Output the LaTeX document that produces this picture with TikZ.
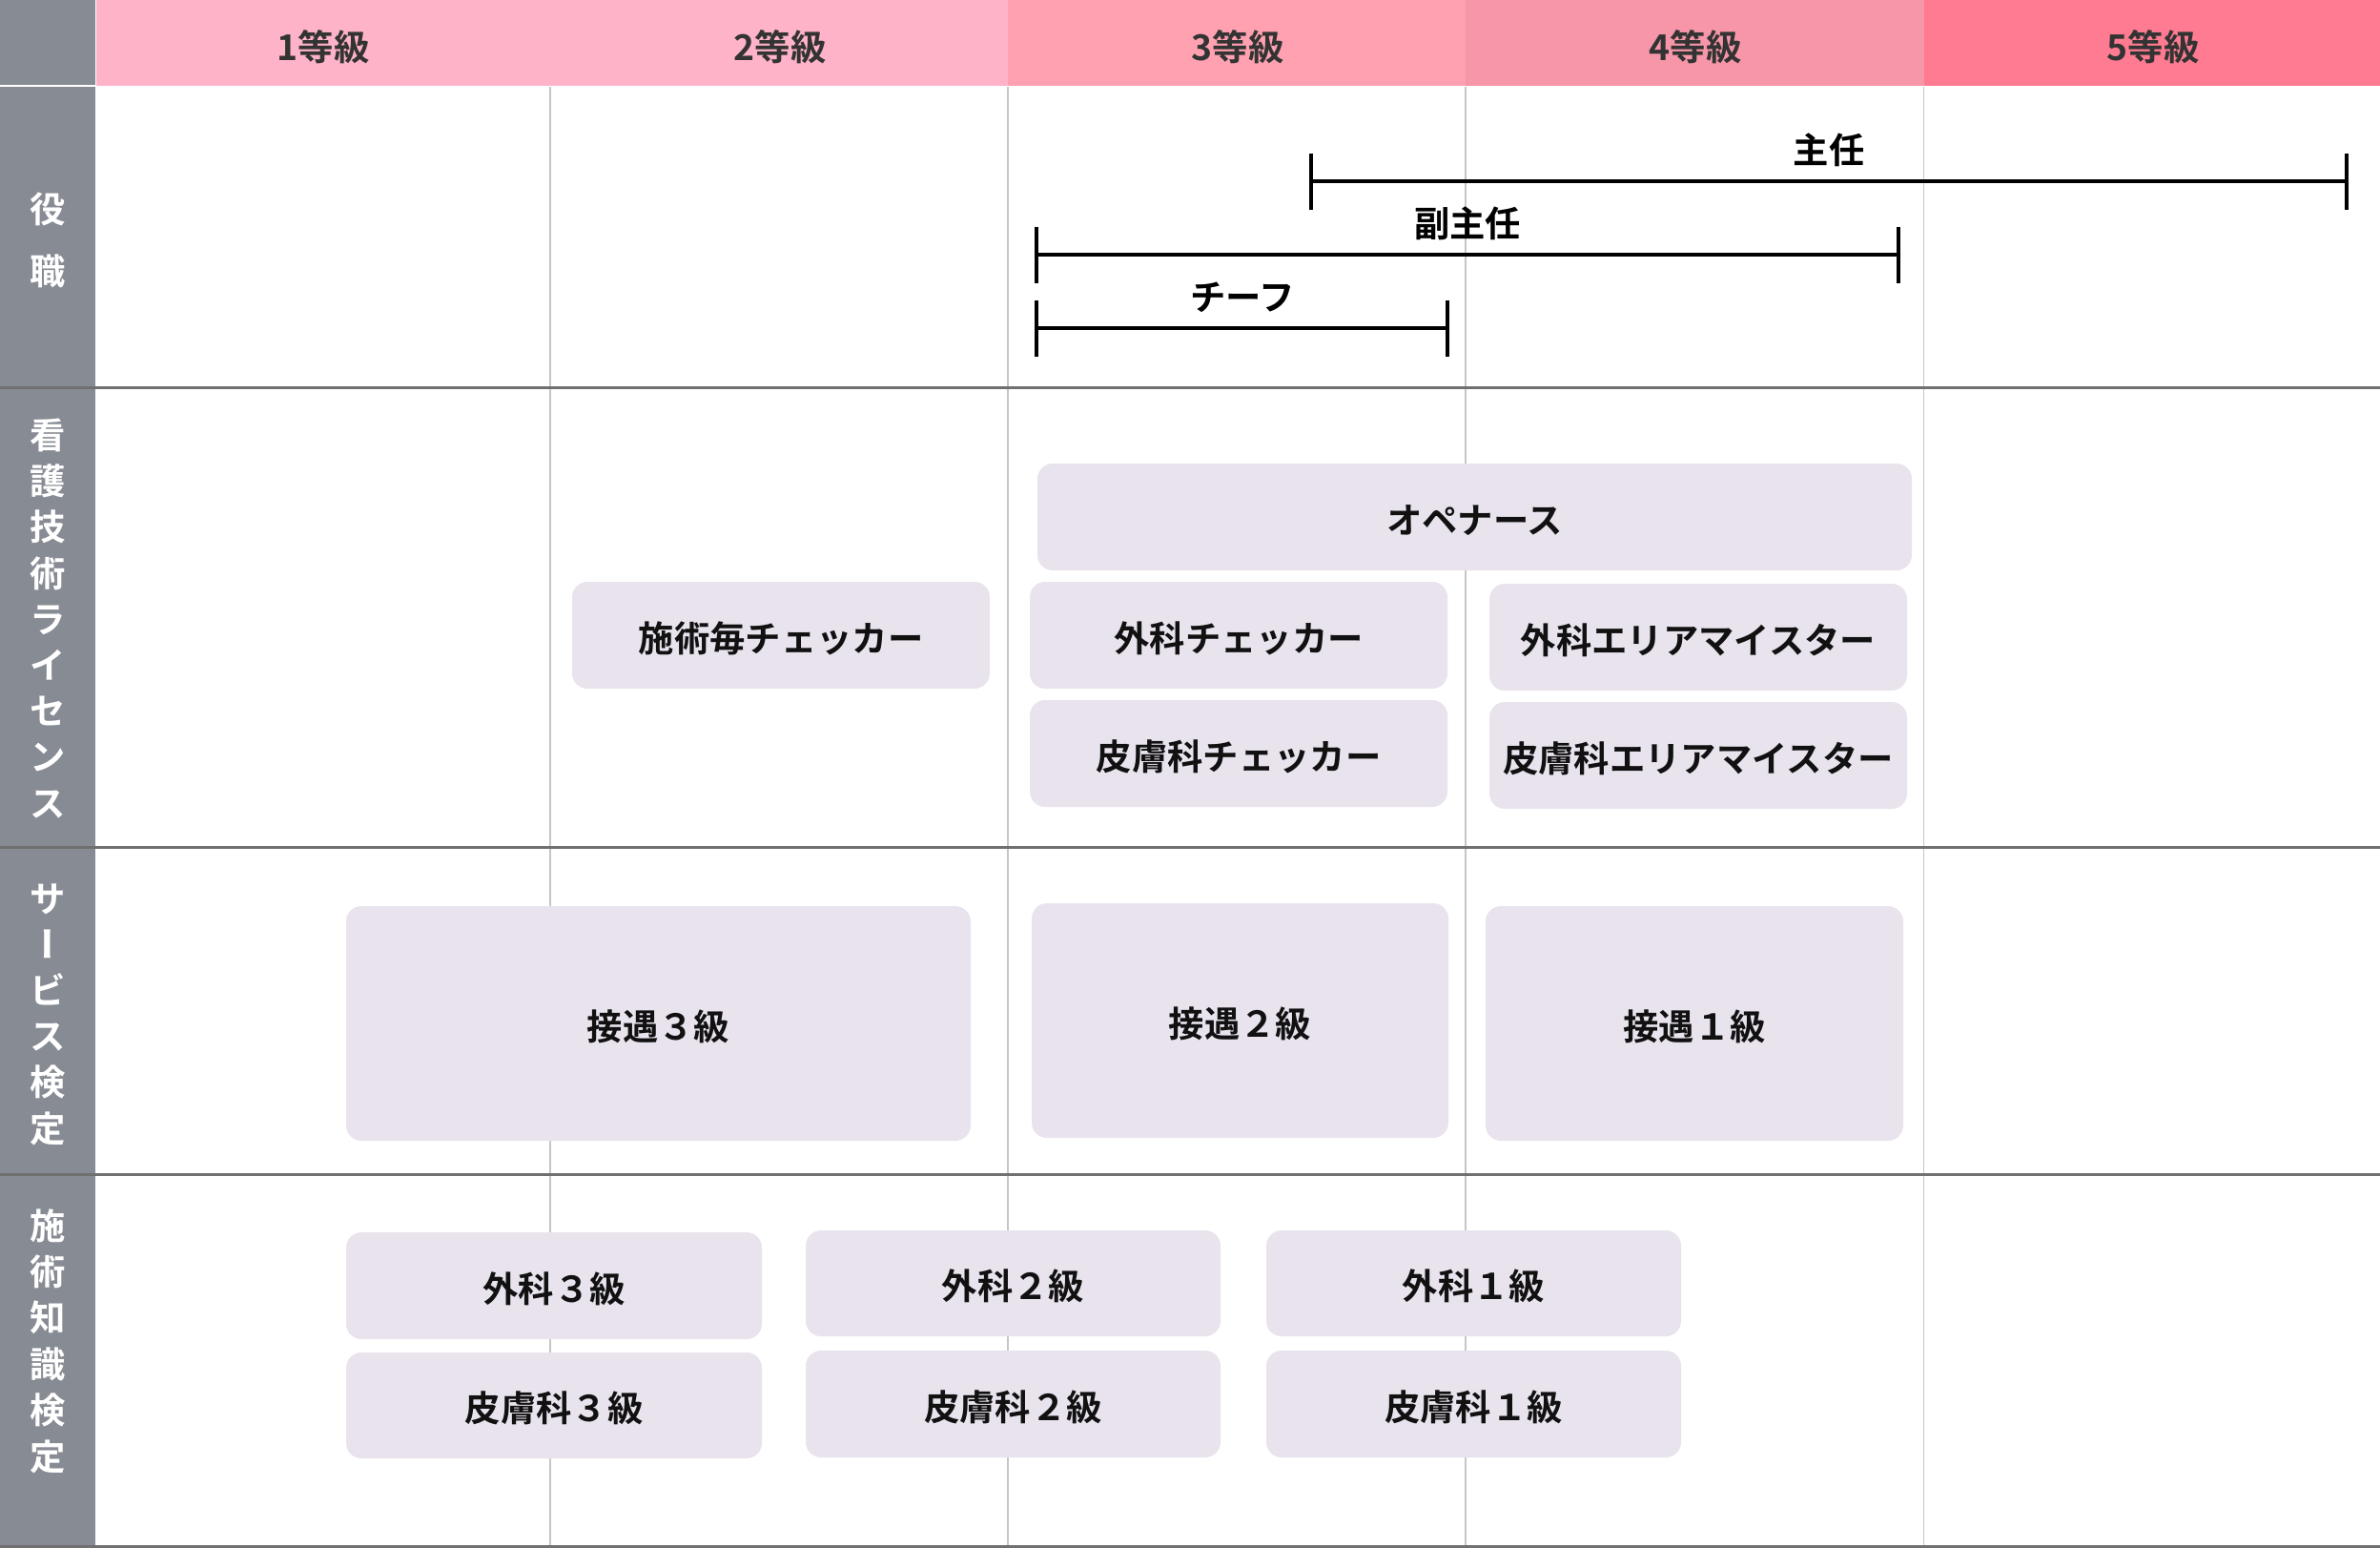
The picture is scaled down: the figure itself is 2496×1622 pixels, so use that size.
\documentclass[tikz,border=0pt]{standalone}
\usepackage{fontspec}
\setmainfont{Noto Sans CJK JP}[BoldFont={Noto Sans CJK JP Bold}]
\newfontfamily\jpv{Noto Sans CJK JP Bold}[RawFeature={+vert}]
\usetikzlibrary{fit}
\definecolor{hdrA}{HTML}{FFB3C8}
\definecolor{hdrB}{HTML}{FFA1B1}
\definecolor{hdrC}{HTML}{F696A8}
\definecolor{hdrD}{HTML}{FF7B91}
\definecolor{sidegray}{HTML}{878B93}
\definecolor{rowline}{HTML}{707070}
\definecolor{colline}{HTML}{C6C6C6}
\definecolor{boxfill}{HTML}{E9E3EE}
\definecolor{hdrtext}{HTML}{333333}
\definecolor{boxtext}{HTML}{111111}
\tikzset{
  jpt/.style={font=\bfseries\fontsize{11.2}{13}\selectfont, text height=0.88em, text depth=0.12em, inner sep=0pt},
  hdr/.style={jpt, text=hdrtext, yshift=-0.4pt},
  side/.style={jpt, text=white, yshift=-0.4pt},
  licbox/.style={fill=boxfill, rounded corners=4.8pt, inner sep=0pt},
  lictext/.style={jpt, text=boxtext, yshift=-1.4pt},
  rolelabel/.style={jpt, text=black, yshift=-0.4pt},
  rolebar/.style={line width=1.05pt, black},
  rowsep/.style={line width=0.9pt, rowline},
  colsep/.style={line width=0.45pt, colline},
}
\newcommand{\licbox}[4]{%
  \node[licbox, fit={#2 #3}] (#1) {};
  \node[lictext] (#1T) at (#1.center) {#4};
}
\begin{document}
\begin{tikzpicture}[x=0.3pt, y=-0.3pt]
\useasboundingbox (0,0) rectangle (2496,1622);
% header
\fill[sidegray] (0,0) rectangle (100,89);
\fill[sidegray] (0,91) rectangle (100,1622);
\fill[hdrA] (101,0) rectangle (1057,90);
\fill[hdrB] (1057,0) rectangle (1537,90);
\fill[hdrC] (1537,0) rectangle (2017.5,90);
\fill[hdrD] (2017.5,0) rectangle (2496,90);
\node[hdr] (g1) at (339,49) {1等級};
\node[hdr] (g2) at (818,49) {2等級};
\node[hdr] (g3) at (1298,49) {3等級};
\node[hdr] (g4) at (1778,49) {4等級};
\node[hdr] (g5) at (2258,49) {5等級};
% column lines
\foreach \x [count=\i] in {577,1057,1537,2017.5}{
  \coordinate (ct\i) at (\x,91);
  \coordinate (cb\i) at (\x,1622);
  \draw[colsep] (ct\i) -- (cb\i);
}
% row lines
\foreach \y [count=\i] in {406,888.5,1231,1621}{
  \coordinate (rl\i) at (0,\y);
  \coordinate (rr\i) at (2496,\y);
  \draw[rowsep] (rl\i) -- (rr\i);
}
% side labels
\node[side] (s1a) at (50,219) {役};
\node[side] (s1b) at (50,284) {職};
\foreach \c [count=\i from 0] in {看,護,技,術,ラ,イ,セ,ン,ス}{
  \node[side] (s2-\i) at (50,456.5+48.2*\i) {\c};
}
\foreach \c [count=\i from 0] in {サ,{\jpv ー},ビ,ス,検,定}{
  \node[side] (s3-\i) at (50,942+48.2*\i) {\c};
}
\foreach \c [count=\i from 0] in {施,術,知,識,検,定}{
  \node[side] (s4-\i) at (50,1285+48.4*\i) {\c};
}
% role bars
\coordinate (shuninL) at (1375,190);
\coordinate (shuninR) at (2461,190);
\coordinate (fukuL) at (1087,267);
\coordinate (fukuR) at (1991,267);
\coordinate (chiefL) at (1087,344);
\coordinate (chiefR) at (1518,344);
\foreach \a/\b in {shuninL/shuninR,fukuL/fukuR,chiefL/chiefR}{
  \draw[rolebar] (\a) -- (\b);
  \draw[rolebar] (\a) ++(0,-29.5) -- ++(0,59);
  \draw[rolebar] (\b) ++(0,-29.5) -- ++(0,59);
}
\node[rolelabel] (shuninT) at (1918,157) {主任};
\node[rolelabel] (fukuT) at (1539,234) {副主任};
\node[rolelabel] (chiefT) at (1303,311) {チーフ};
% license boxes
\licbox{ope}{(1088,486)}{(2005,598)}{オペナース}
\licbox{shchk}{(600,610)}{(1038,722)}{施術毎チェッカー}
\licbox{gechk}{(1080,610)}{(1518,722)}{外科チェッカー}
\licbox{hichk}{(1080,734)}{(1518,846)}{皮膚科チェッカー}
\licbox{gemei}{(1562,612)}{(2000,724)}{外科エリアマイスター}
\licbox{himei}{(1562,736)}{(2000,848)}{皮膚科エリアマイスター}
% service
\licbox{seA}{(363,950)}{(1018,1196)}{接遇３級}
\licbox{seB}{(1082,947)}{(1519,1193)}{接遇２級}
\licbox{seC}{(1558,950)}{(1996,1196)}{接遇１級}
% knowledge
\licbox{geA}{(363,1292)}{(799,1404)}{外科３級}
\licbox{hiA}{(363,1418)}{(799,1529)}{皮膚科３級}
\licbox{geB}{(845,1290)}{(1280,1401)}{外科２級}
\licbox{hiB}{(845,1416)}{(1280,1528)}{皮膚科２級}
\licbox{geC}{(1328,1290)}{(1763,1401)}{外科１級}
\licbox{hiC}{(1328,1416)}{(1763,1528)}{皮膚科１級}
\end{tikzpicture}
\end{document}
